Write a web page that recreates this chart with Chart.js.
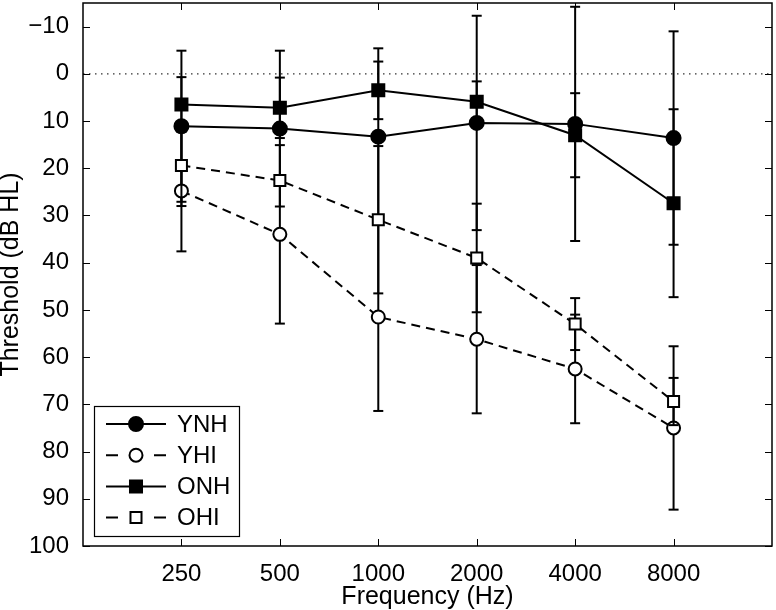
<!DOCTYPE html>
<html>
<head>
<meta charset="utf-8">
<script src="https://cdn.jsdelivr.net/npm/chart.js@4.4.0/dist/chart.umd.min.js"></script>
<style>
  body { margin: 0; background: #fff; }
</style>
</head>
<body>
<canvas id="myChart" width="776" height="610"></canvas>
<script>
// frequencies (Hz), plotted at equal octave steps
const freqs = ["250", "500", "1000", "2000", "4000", "8000"];
const yTicks = [-10, 0, 10, 20, 30, 40, 50, 60, 70, 80, 90, 100];

// mean thresholds (dB HL) and standard deviations
const ynh = [11.1, 11.6, 13.3, 10.4, 10.6, 13.6];
const ynhSd = [16.0, 16.5, 18.7, 22.7, 24.8, 22.6];
const yhi = [24.8, 34.0, 51.5, 56.2, 62.5, 75.0];
const yhiSd = [12.8, 18.9, 19.9, 15.7, 11.5, 17.3];
const onh = [6.5, 7.2, 3.5, 5.9, 13.0, 27.4];
const onhSd = [5.8, 6.4, 6.1, 4.3, 8.9, 19.9];
const ohi = [19.4, 22.6, 30.9, 39.0, 53.0, 69.4];
const ohiSd = [8.6, 1.0, 15.6, 11.5, 5.5, 5.0];

const FONT = "'Liberation Sans', Arial, Helvetica, sans-serif";
const DASH = [9, 6];

const series = [
  {label: "YNH", vals: ynh, sd: ynhSd, style: "circle", filled: true, dashed: false, r: 7},
  {label: "YHI", vals: yhi, sd: yhiSd, style: "circle", filled: false, dashed: true, r: 6.5},
  {label: "ONH", vals: onh, sd: onhSd, style: "rect", filled: true, dashed: false, r: 8.5},
  {label: "OHI", vals: ohi, sd: ohiSd, style: "rect", filled: false, dashed: true, r: 7.8}
];

const datasets = [];
series.forEach((s, k) => {
  // later series sit on top, like the original plot
  const base = (series.length - k) * 2;
  datasets.push({
    label: s.label,
    data: s.vals.map((v, i) => ({x: i, y: v})),
    borderColor: "#000",
    borderWidth: 2,
    borderDash: s.dashed ? DASH : [],
    pointStyle: s.style,
    pointRadius: s.r,
    pointBackgroundColor: s.filled ? "#000" : "#fff",
    pointBorderColor: "#000",
    pointBorderWidth: 2,
    tension: 0,
    order: base - 1
  });
  // error bars: low, high, gap for every frequency
  const err = [];
  s.vals.forEach((v, i) => {
    err.push({x: i, y: v - s.sd[i]}, {x: i, y: v + s.sd[i]}, {x: i, y: null});
  });
  datasets.push({
    label: s.label + "_err",
    data: err,
    borderColor: "#000",
    borderWidth: 2,
    pointStyle: "line",
    pointRadius: 5,
    pointBorderColor: "#000",
    pointBorderWidth: 2,
    spanGaps: false,
    order: base
  });
});
datasets.push({
  label: "zero",
  data: [{x: -1, y: 0}, {x: freqs.length, y: 0}],
  borderColor: "#333",
  borderWidth: 1.2,
  borderDash: [1.5, 4.5],
  pointRadius: 0,
  order: 20
});

// box, inward ticks and the MATLAB style legend
const frame = {
  id: "frame",
  afterDraw(chart) {
    const ctx = chart.ctx;
    const a = chart.chartArea;
    const xs = chart.scales.x, ys = chart.scales.y;
    const L = 7;
    ctx.save();
    ctx.strokeStyle = "#000";
    ctx.lineWidth = 1;
    ctx.beginPath();
    xs.ticks.forEach(t => {
      const px = Math.round(xs.getPixelForValue(t.value)) + 0.5;
      ctx.moveTo(px, a.bottom); ctx.lineTo(px, a.bottom - L);
      ctx.moveTo(px, a.top); ctx.lineTo(px, a.top + L);
    });
    ys.ticks.forEach(t => {
      const py = Math.round(ys.getPixelForValue(t.value)) + 0.5;
      ctx.moveTo(a.left, py); ctx.lineTo(a.left + L, py);
      ctx.moveTo(a.right, py); ctx.lineTo(a.right - L, py);
    });
    ctx.stroke();
    ctx.lineWidth = 1.5;
    ctx.strokeRect(a.left, a.top, a.right - a.left, a.bottom - a.top);

    // legend
    const bx = a.left + 11, bw = 145, bh = 130;
    const by = a.bottom - 10 - bh;
    ctx.fillStyle = "#fff";
    ctx.fillRect(bx, by, bw, bh);
    ctx.lineWidth = 1.2;
    ctx.strokeRect(bx + 0.5, by + 0.5, bw, bh);
    ctx.font = "24px " + FONT;
    ctx.textBaseline = "middle";
    ctx.textAlign = "left";
    series.forEach((s, k) => {
      const cy = by + 18 + k * 31.2;
      const x0 = bx + 12, x1 = bx + 72, mx = (x0 + x1) / 2;
      ctx.strokeStyle = "#000";
      ctx.lineWidth = 2;
      ctx.setLineDash(s.dashed ? [12, 36] : []);
      ctx.beginPath();
      ctx.moveTo(x0, cy); ctx.lineTo(x1, cy);
      ctx.stroke();
      ctx.setLineDash([]);
      ctx.fillStyle = s.filled ? "#000" : "#fff";
      ctx.beginPath();
      if (s.style === "circle") {
        ctx.arc(mx, cy, s.r, 0, Math.PI * 2);
      } else {
        const h = s.r * Math.SQRT1_2;
        ctx.rect(mx - h, cy - h, 2 * h, 2 * h);
      }
      ctx.fill();
      ctx.stroke();
      ctx.fillStyle = "#000";
      ctx.fillText(s.label, bx + 83, cy + 1);
    });
    ctx.restore();
  }
};

const config = {
  type: "line",
  data: {datasets: datasets},
  options: {
    responsive: false,
    animation: false,
    events: [],
    layout: {autoPadding: false, padding: {left: 0, top: 3, right: 4, bottom: 0}},
    scales: {
      x: {
        type: "linear",
        min: -1,
        max: freqs.length,
        grid: {display: false},
        border: {display: false},
        afterBuildTicks: s => { s.ticks = freqs.map((f, i) => ({value: i})); },
        afterFit: s => { s.height = 64; s.paddingLeft = 0; s.paddingRight = 0; },
        ticks: {
          color: "#000",
          padding: 6,
          maxRotation: 0,
          font: {family: FONT, size: 24},
          callback: v => freqs[v]
        },
        title: {
          display: true,
          text: "Frequency (Hz)",
          color: "#000",
          padding: 0,
          font: {family: FONT, size: 25, lineHeight: 1}
        }
      },
      y: {
        type: "linear",
        reverse: true,
        min: -15,
        max: 100,
        grid: {display: false},
        border: {display: false},
        afterBuildTicks: s => { s.ticks = yTicks.map(v => ({value: v})); },
        afterFit: s => { s.width = 83; s.paddingTop = 0; s.paddingBottom = 0; },
        ticks: {
          color: "#000",
          padding: 6,
          font: {family: FONT, size: 24},
          callback: v => v < 0 ? "\u2212" + Math.abs(v) : String(v)
        },
        title: {
          display: true,
          text: "Threshold (dB HL)",
          color: "#000",
          padding: 0,
          font: {family: FONT, size: 25, lineHeight: 0.85}
        }
      }
    },
    plugins: {
      legend: {display: false},
      tooltip: {enabled: false}
    }
  },
  plugins: [frame]
};

let myChart = new Chart(document.getElementById("myChart"), config);
</script>
</body>
</html>
